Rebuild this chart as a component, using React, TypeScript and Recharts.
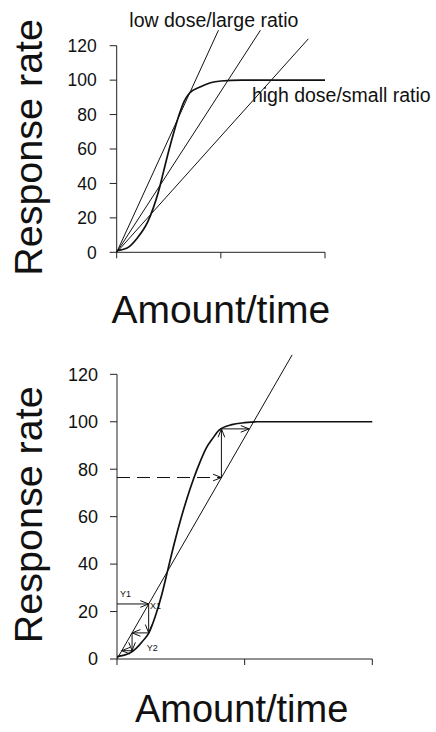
import React from "react";
import {
  LineChart,
  Line,
  XAxis,
  YAxis,
  ReferenceLine,
  ReferenceDot,
} from "recharts";

// top panel: sigmoid dose-response and three ratio lines
const topCurveX = [0, 0.1, 0.2, 0.3, 0.35, 0.4, 0.45, 0.5, 0.55, 0.6, 0.65, 0.7, 0.8, 0.9, 1.0, 1.2, 1.5, 2.0];
const topCurveY = [1, 2.5, 8.5, 18, 25.5, 35, 47, 59, 70, 80, 88, 92.5, 96, 98.5, 99.5, 100, 100, 100];
const lowDoseEnd = { x: 0.977, y: 129 };
const midDoseEnd = { x: 1.38, y: 129 };
const highDoseEnd = { x: 1.84, y: 124 };

// bottom panel: steeper sigmoid, one ratio line and the cobweb arrows
const bottomCurveX = [0, 0.05, 0.1, 0.15, 0.2, 0.25, 0.3, 0.35, 0.4, 0.45, 0.5, 0.55, 0.6, 0.65, 0.7, 0.75, 0.8, 0.9, 1.0, 1.1, 1.3, 2.0];
const bottomCurveY = [1, 1.5, 2.5, 4.5, 7.5, 11, 18, 27, 38, 49, 59, 68, 76, 83, 89, 93, 96.5, 98.8, 99.6, 100, 100, 100];
const ratioEnd = { x: 1.372, y: 128.2 };

// cobweb steps: [x1, y1, x2, y2, dashed]
const cobweb: [number, number, number, number, boolean][] = [
  [0, 76.5, 0.818, 76.5, true],
  [0.818, 76.5, 0.818, 97, false],
  [0.818, 97, 1.035, 97, false],
  [0, 23.2, 0.248, 23.2, false],
  [0.248, 23.2, 0.248, 11, false],
  [0.248, 11, 0.118, 11, false],
  [0.118, 11, 0.118, 3.5, false],
  [0.118, 3.5, 0.037, 3.5, false],
];

const yTicks = [0, 20, 40, 60, 80, 100, 120];
const xTicks = [0, 1, 2];

const FONT = '"Liberation Sans", Arial, sans-serif';

const toPoints = (xs: number[], ys: number[]) => xs.map((x, i) => ({ x, y: ys[i] }));
const fromOrigin = (end: { x: number; y: number }) => [{ x: 0, y: 0 }, end];

const arrowShape = (dashed: boolean) => (p: any) => {
  const { x1, y1, x2, y2 } = p;
  const a = Math.atan2(y2 - y1, x2 - x1);
  const len = 9;
  const spread = 0.38;
  const hx1 = x2 - len * Math.cos(a - spread);
  const hy1 = y2 - len * Math.sin(a - spread);
  const hx2 = x2 - len * Math.cos(a + spread);
  const hy2 = y2 - len * Math.sin(a + spread);
  return (
    <g>
      <line
        x1={x1}
        y1={y1}
        x2={x2}
        y2={y2}
        stroke="#111"
        strokeWidth={1}
        strokeDasharray={dashed ? "13 7" : undefined}
      />
      <polyline
        points={`${hx1},${hy1} ${x2},${y2} ${hx2},${hy2}`}
        fill="none"
        stroke="#111"
        strokeWidth={1}
      />
    </g>
  );
};

const textShape = (text: string, size: number) => (p: any) => (
  <text x={p.cx} y={p.cy} fontSize={size} fontFamily={FONT} fill="#111">
    {text}
  </text>
);

const yTitle = (dy: number) => (props: any) => {
  const vb = props.viewBox;
  const x = vb.x + vb.width - 75;
  const y = vb.y + vb.height / 2 + dy;
  return (
    <text
      x={x}
      y={y}
      transform={`rotate(-90, ${x}, ${y})`}
      textAnchor="middle"
      fontSize={39.5}
      fontFamily={FONT}
      fill="#111"
    >
      Response rate
    </text>
  );
};

const xTitle = (dy: number, dx: number, size: number) => (props: any) => {
  const vb = props.viewBox;
  return (
    <text
      x={vb.x + vb.width / 2 + dx}
      y={vb.y + dy}
      textAnchor="middle"
      fontSize={size}
      fontFamily={FONT}
      fill="#111"
    >
      Amount/time
    </text>
  );
};

const tickStyle = (size: number) => ({ fontSize: size, fontFamily: FONT, fill: "#111" });

export default function App() {
  return (
    <div style={{ position: "relative", width: 436, height: 732, background: "#fff" }}>
      <style>{"body{margin:0}"}</style>

      <div style={{ position: "absolute", left: 0, top: 0 }}>
        <LineChart width={436} height={340} margin={{ top: 28.5, right: 111, bottom: 27.7, left: 56.7 }}>
          <XAxis
            type="number"
            dataKey="x"
            domain={[0, 2]}
            ticks={xTicks}
            tickFormatter={() => ""}
            tickSize={6}
            height={60}
            stroke="#222"
            label={{ content: xTitle(71, 0, 39) }}
          />
          <YAxis
            type="number"
            dataKey="y"
            domain={[0, 130]}
            ticks={yTicks}
            axisLine={false}
            tickSize={7}
            tickMargin={13}
            width={60}
            stroke="#222"
            tick={tickStyle(17.5)}
            label={{ content: yTitle(7) }}
          />
          <ReferenceLine segment={[{ x: 0, y: 0 }, { x: 0, y: 120 }]} stroke="#222" />
          <Line data={fromOrigin(lowDoseEnd)} dataKey="y" stroke="#111" strokeWidth={1} dot={false} isAnimationActive={false} />
          <Line data={fromOrigin(midDoseEnd)} dataKey="y" stroke="#111" strokeWidth={1} dot={false} isAnimationActive={false} />
          <Line data={fromOrigin(highDoseEnd)} dataKey="y" stroke="#111" strokeWidth={1} dot={false} isAnimationActive={false} />
          <Line
            data={toPoints(topCurveX, topCurveY)}
            dataKey="y"
            type="monotone"
            stroke="#111"
            strokeWidth={1.7}
            dot={false}
            isAnimationActive={false}
          />
          <ReferenceDot x={0.121} y={131} r={0} ifOverflow="visible" shape={textShape("low dose/large ratio", 19.5)} />
          <ReferenceDot x={1.298} y={87.5} r={0} ifOverflow="visible" shape={textShape("high dose/small ratio", 19.5)} />
        </LineChart>
      </div>

      <div style={{ position: "absolute", left: 0, top: 340 }}>
        <LineChart width={436} height={392} margin={{ top: 10.6, right: 63.7, bottom: 13, left: 57 }}>
          <XAxis
            type="number"
            dataKey="x"
            domain={[0, 2]}
            ticks={xTicks}
            tickFormatter={() => ""}
            tickSize={6}
            height={60}
            stroke="#222"
            label={{ content: xTitle(63, -3, 38) }}
          />
          <YAxis
            type="number"
            dataKey="y"
            domain={[0, 130]}
            ticks={yTicks}
            axisLine={false}
            tickSize={7}
            tickMargin={12}
            width={60}
            stroke="#222"
            tick={tickStyle(18)}
            label={{ content: yTitle(10) }}
          />
          <ReferenceLine segment={[{ x: 0, y: 0 }, { x: 0, y: 120 }]} stroke="#222" />
          <Line data={fromOrigin(ratioEnd)} dataKey="y" stroke="#111" strokeWidth={1} dot={false} isAnimationActive={false} />
          <Line
            data={toPoints(bottomCurveX, bottomCurveY)}
            dataKey="y"
            type="monotone"
            stroke="#111"
            strokeWidth={1.7}
            dot={false}
            isAnimationActive={false}
          />
          {cobweb.map(([x1, y1, x2, y2, dashed], i) => (
            <ReferenceLine
              key={`cw-${i}`}
              segment={[{ x: x1, y: y1 }, { x: x2, y: y2 }]}
              shape={arrowShape(dashed)}
            />
          ))}
          <ReferenceDot x={0.023} y={26.1} r={0} ifOverflow="visible" shape={textShape("Y1", 9)} />
          <ReferenceDot x={0.258} y={21.1} r={0} ifOverflow="visible" shape={textShape("X1", 9)} />
          <ReferenceDot x={0.234} y={3.4} r={0} ifOverflow="visible" shape={textShape("Y2", 9)} />
        </LineChart>
      </div>
    </div>
  );
}
